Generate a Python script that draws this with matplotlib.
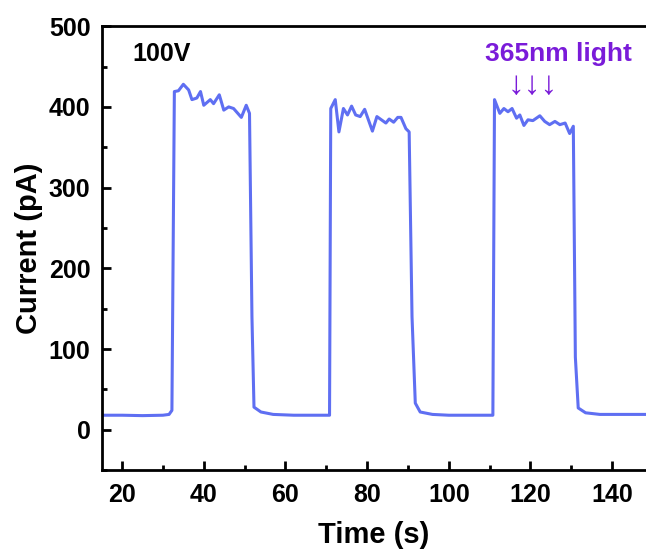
import matplotlib.pyplot as plt
from matplotlib.ticker import MultipleLocator

plt.rcParams['font.family'] = ['Liberation Sans', 'DejaVu Sans']
plt.rcParams['font.weight'] = 'bold'

# time (s) and photocurrent (pA)
time = [15, 20, 25, 30, 31.5, 32.2, 32.8, 33.8, 35.0, 36.3, 37.1, 38.3, 39.2, 40.0,
        41.6, 42.4, 43.8, 44.9, 46.1, 47.3, 49.2, 50.4, 51.2, 51.8, 52.3, 54, 57, 62,
        66, 70.8, 71.1, 72.2, 73.1, 74.2, 75.2, 76.2, 77.2, 78.3, 79.4, 81.3, 82.4,
        84.6, 85.4, 86.5, 87.5, 88.3, 89.5, 90.3, 91.0, 91.8, 93.0, 96, 100, 105,
        110.8, 111.2, 112.5, 113.5, 114.5, 115.5, 116.6, 117.4, 118.4, 119.4, 120.6,
        122.3, 123.5, 124.7, 126.0, 127.2, 128.5, 129.6, 130.5, 131.0, 131.7, 133.5,
        137, 142, 149]
current = [18, 18, 17.5, 18, 19, 24, 419, 420, 428, 421, 409, 411, 419, 402,
           409, 404, 415, 396, 400, 398, 387, 402, 392, 140, 28, 22, 19, 18,
           18, 18, 398, 409, 369, 398, 390, 401, 390, 388, 397, 370, 388,
           380, 385, 381, 387, 387, 373, 369, 140, 33, 22, 19, 18, 18,
           18, 409, 392, 398, 394, 398, 386, 390, 377, 384, 383,
           389, 382, 378, 382, 378, 380, 367, 376, 90, 27, 21,
           19, 19, 19]

line_color = '#5f6ff2'
light_color = '#7a1bd9'

fig = plt.figure(figsize=(6.46, 5.57), dpi=100)
ax = fig.add_axes([0.1574, 0.156, 0.8426, 0.797])

ax.plot(time, current, color=line_color, lw=2.2)

ax.set_xlim(15, 148.3)
ax.set_ylim(-50, 500)
ax.xaxis.set_major_locator(MultipleLocator(20))
ax.xaxis.set_minor_locator(MultipleLocator(10))
ax.yaxis.set_major_locator(MultipleLocator(100))
ax.yaxis.set_minor_locator(MultipleLocator(50))
ax.tick_params(which='major', direction='in', length=6.5, width=2, labelsize=18)
ax.tick_params(which='minor', direction='in', length=3.5, width=2)
ax.tick_params(axis='x', which='major', pad=9.5)
ax.tick_params(axis='y', which='major', pad=8)
for s in ['left', 'bottom', 'top']:
    ax.spines[s].set_linewidth(2)
ax.spines['right'].set_visible(False)
for lab in ax.get_xticklabels() + ax.get_yticklabels():
    lab.set_fontweight('bold')

ax.set_xlabel('Time (s)', fontsize=21, fontweight='bold', labelpad=10)
ax.set_ylabel('Current (pA)', fontsize=21, fontweight='bold', labelpad=4)

ax.text(22.4, 466, '100V', fontsize=18, fontweight='bold', va='center', ha='left')
ax.text(126.9, 466, '365nm light', fontsize=19, fontweight='bold', color=light_color,
        va='center', ha='center')
ax.text(120.6, 426, '↓↓↓', fontsize=24, color=light_color, va='center', ha='center',
        fontweight='normal', family=['Liberation Sans', 'DejaVu Sans'])

fig.savefig('out.png', dpi=100)
